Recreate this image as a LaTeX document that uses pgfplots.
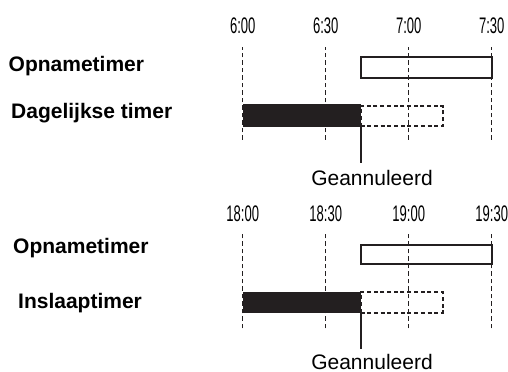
\documentclass[border=0pt]{standalone}
\usepackage{pgfplots}
\pgfplotsset{compat=1.18}
\usepackage{fontspec}
\setmainfont{Liberation Sans}
\newfontfamily\condensed[FakeStretch=0.58]{Liberation Sans}
\definecolor{ink}{RGB}{35,31,32}
\newcommand{\bigfont}{\fontsize{21bp}{25bp}\selectfont}
\newcommand{\tl}[1]{{\condensed\fontsize{22.5bp}{26bp}\selectfont #1}}

\pgfplotsset{
  timerpanel/.style={
    x=2.7667bp, y=1bp,
    xmin=0, xmax=90,
    enlargelimits=false,
    clip=false,
    anchor=south west,
    axis line style={draw=none},
    major tick length=0pt,
    ytick=\empty,
    xtick={0,30,60,90},
    xticklabel pos=upper,
    xmajorgrids,
    grid style={ink, line width=1.2bp, dash pattern=on 4.5bp off 3bp},
    xticklabel style={anchor=base, inner sep=0pt},
  },
  openbox/.style={draw=ink, line width=2bp, fill=none},
  activebar/.style={fill=ink, draw=none},
  dashbox/.style={draw=ink, line width=2bp, dash pattern=on 4bp off 2.7bp, fill=none},
  cancel/.style={ink, line width=2bp},
}

\begin{document}
\begin{tikzpicture}
\useasboundingbox (0,0) rectangle (508bp,372bp);

% ---------- top panel ----------
\begin{axis}[timerpanel, at={(242.7bp,232bp)}, ymin=232, ymax=325.3,
  xticklabels={\tl{6:00},\tl{6:30},\tl{7:00},\tl{7:30}},
  xticklabel style={yshift=13.4bp}]
  \addplot[activebar] coordinates {(0,245.3) (42.6,245.3) (42.6,267.7) (0,267.7)} -- cycle;
  \addplot[dashbox] coordinates {(42.6,246) (72.3,246) (72.3,266) (42.6,266)} -- cycle;
  \addplot[openbox] coordinates {(42.6,293.7) (90,293.7) (90,314.7) (42.6,314.7)} -- cycle;
  \addplot[cancel] coordinates {(42.6,245.3) (42.6,208.7)};
\end{axis}

% ---------- bottom panel ----------
\begin{axis}[timerpanel, at={(242.7bp,43.7bp)}, ymin=43.7, ymax=138.7,
  xticklabels={\tl{18:00},\tl{18:30},\tl{19:00},\tl{19:30}},
  xticklabel style={yshift=12.2bp}]
  \addplot[activebar] coordinates {(0,58.7) (42.6,58.7) (42.6,80.3) (0,80.3)} -- cycle;
  \addplot[dashbox] coordinates {(42.6,59.4) (72.3,59.4) (72.3,79.6) (42.6,79.6)} -- cycle;
  \addplot[openbox] coordinates {(42.6,108) (90,108) (90,127) (42.6,127)} -- cycle;
  \addplot[cancel] coordinates {(42.6,58.7) (42.6,22.7)};
\end{axis}

% ---------- labels ----------
\node[anchor=base west, inner sep=0pt, font=\bigfont\bfseries] at (8.5bp,300.3bp) {Opnametimer};
\node[anchor=base west, inner sep=0pt, font=\bigfont\bfseries] at (11bp,253bp) {Dagelijkse timer};
\node[anchor=base, inner sep=0pt, font=\bigfont] at (372bp,186bp) {Geannuleerd};

\node[anchor=base west, inner sep=0pt, font=\bigfont\bfseries] at (13bp,118bp) {Opnametimer};
\node[anchor=base west, inner sep=0pt, font=\bigfont\bfseries] at (18bp,63bp) {Inslaaptimer};
\node[anchor=base, inner sep=0pt, font=\bigfont] at (372bp,3bp) {Geannuleerd};
\end{tikzpicture}
\end{document}
